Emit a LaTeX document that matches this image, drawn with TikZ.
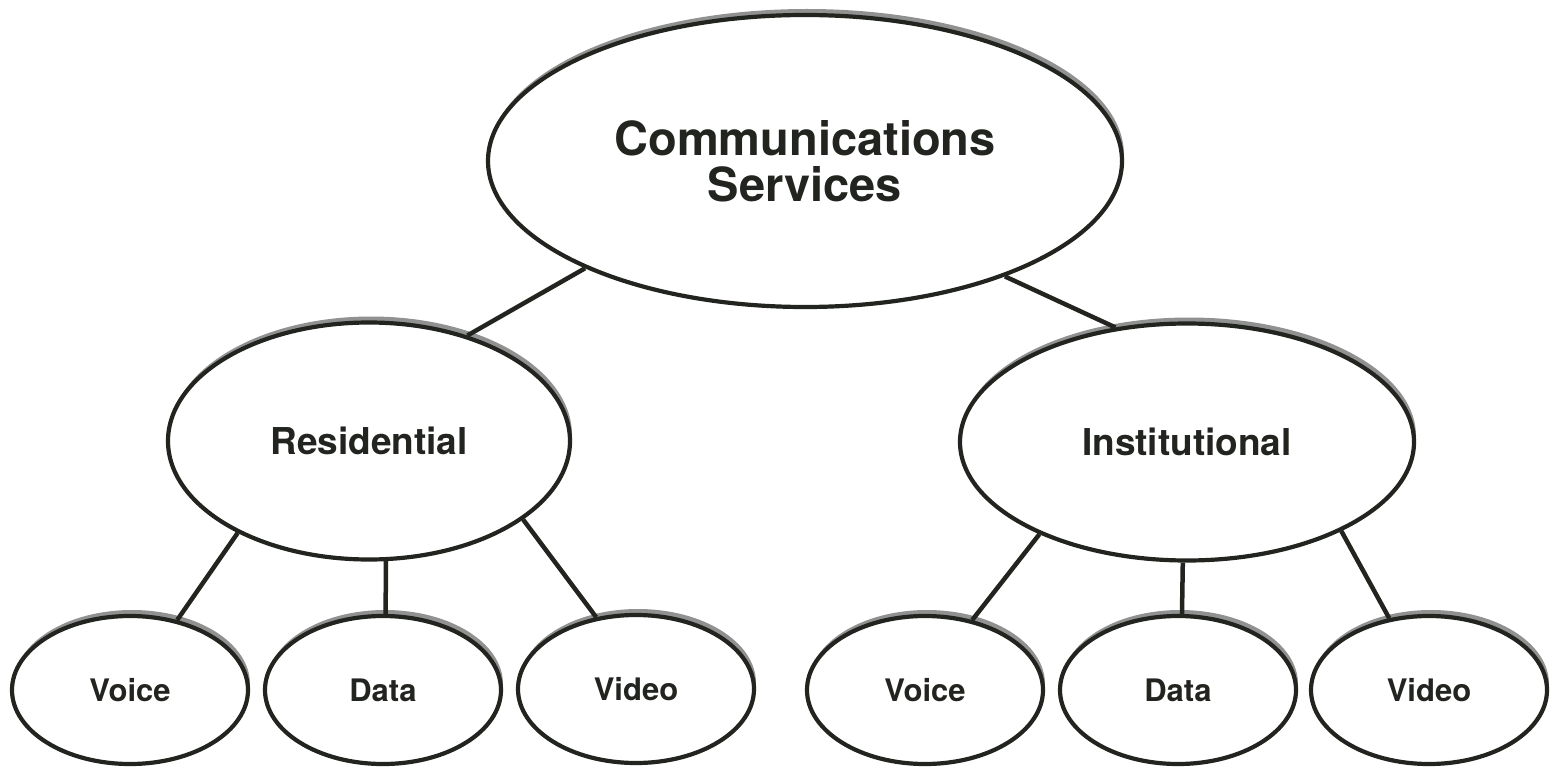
\documentclass[tikz,border=0pt]{standalone}
\usepackage{fontspec}
\setmainfont{TeX Gyre Heros}
\usetikzlibrary{shapes.geometric,shadows}
\definecolor{ink}{RGB}{34,36,32}
\definecolor{halftone}{RGB}{145,145,145}
\begin{document}
\begin{tikzpicture}[x=1pt,y=-1pt,
  bubble/.style={ellipse, draw=ink, line width=4.2pt, fill=white, inner sep=0pt,
    text=ink, align=center,
    drop shadow={shadow xshift=2pt, shadow yshift=6pt, fill=halftone, opacity=1}},
  topbubble/.style={bubble, minimum width=634pt, minimum height=292pt,
    font=\bfseries\fontsize{47}{46}\selectfont},
  midbubble/.style={bubble, minimum height=237pt,
    font=\bfseries\fontsize{37}{40}\selectfont},
  leafbubble/.style={bubble, minimum width=236pt, minimum height=148pt,
    font=\bfseries\fontsize{31}{34}\selectfont},
  link/.style={draw=ink, line width=4.5pt}]
\useasboundingbox (0,0) rectangle (1550,767);

% top level
\node[topbubble] (root) at (805,161) {Communications\\Services};

% second level
\node[midbubble, minimum width=402pt] (res) at (369,441) {Residential};
\node[midbubble, minimum width=454pt] (inst) at (1187,442) {Institutional};

% leaves
\node[leafbubble] (rvoice) at (130,690) {Voice};
\node[leafbubble] (rdata)  at (383,690) {Data};
\node[leafbubble] (rvideo) at (636,689) {Video};
\node[leafbubble] (ivoice) at (925,690) {Voice};
\node[leafbubble] (idata)  at (1178,690) {Data};
\node[leafbubble] (ivideo) at (1429,690) {Video};

% connectors
\draw[link] (root.206) -- (res.47);
\draw[link] (root.330) -- (inst.122);

\draw[link] (res.215) -- (rvoice.56);
\draw[link] (res.278) -- (rdata.88);
\draw[link] (res.333) -- (rvideo.119);

\draw[link] (inst.212) -- (ivoice.56);
\draw[link] (inst.268) -- (idata.87);
\draw[link] (inst.330) -- (ivideo.119);
\end{tikzpicture}
\end{document}
